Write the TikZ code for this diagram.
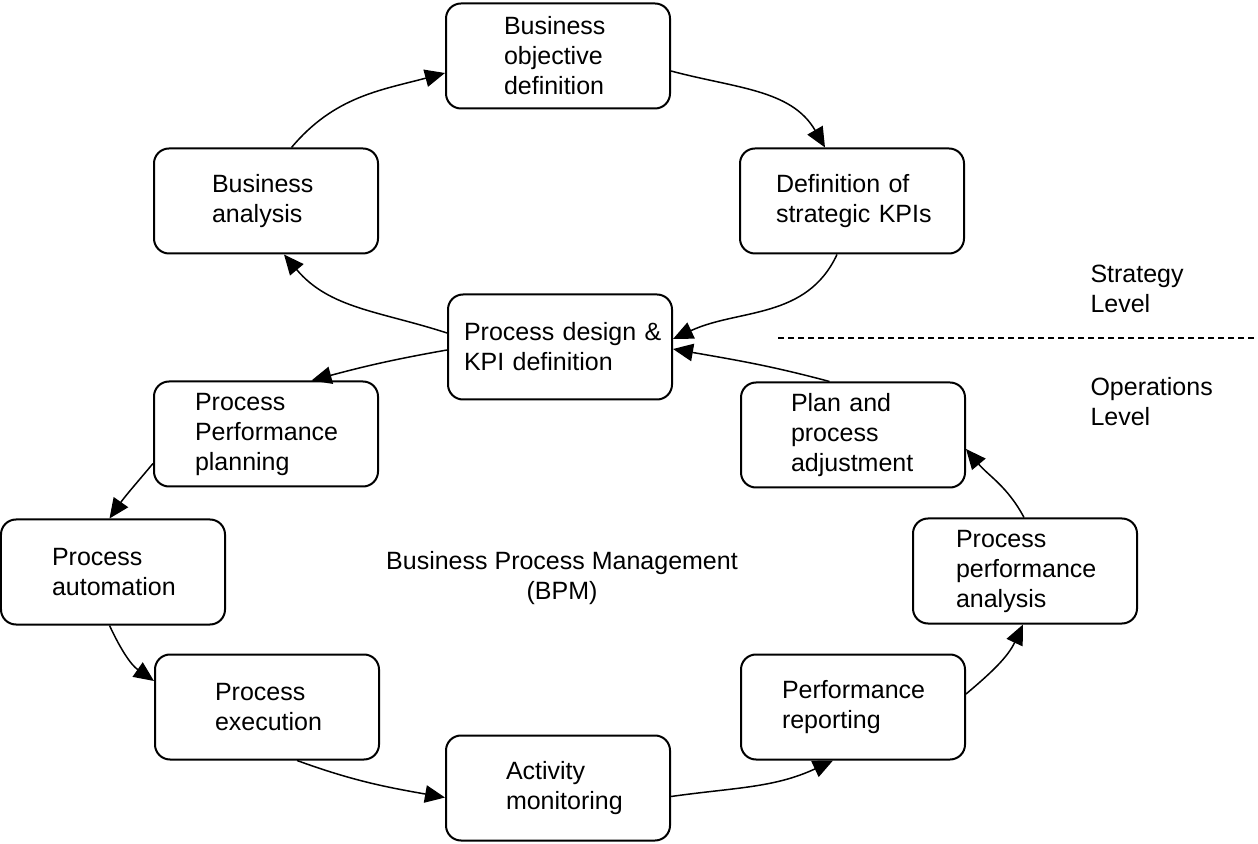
\documentclass[tikz,border=0pt]{standalone}
\usepackage{fontspec}
\setmainfont{Liberation Sans}
\usetikzlibrary{arrows.meta}
\begin{document}
\begin{tikzpicture}[x=0.4pt,y=-0.4pt,
  font=\fontsize{10}{12}\selectfont,
  stepbox/.style={draw,line width=0.8pt,rounded corners=6pt,text width=89.6pt,
    minimum height=42pt,inner sep=0pt,align=left},
  lpad/.style={execute at begin node={\leftskip=#1\relax}},
  flow/.style={line width=0.6pt,-{Triangle[length=8pt,width=7pt]}}]
\useasboundingbox (0,0) rectangle (1258,844);
% strategy level
\node[stepbox,lpad=23.2pt] (obj) at (558,56) {Business\\objective\\definition};
\node[stepbox,lpad=23.2pt] (ana) at (266,201) {Business\\analysis};
\node[stepbox,lpad=14.4pt] (kpi) at (852,201) {Definition of\\strategic KPIs};
\node[stepbox,lpad=6.4pt] (des) at (560,347) {Process design \&\\KPI definition};
% operations level
\node[stepbox,lpad=16.4pt] (plan) at (266,434) {Process\\Performance\\planning};
\node[stepbox,lpad=20pt] (adj) at (853,435) {Plan and\\process\\adjustment};
\node[stepbox,lpad=20.4pt] (auto) at (113,572) {Process\\automation};
\node[stepbox,lpad=17.2pt] (ppa) at (1025,571) {Process\\performance\\analysis};
\node[stepbox,lpad=24pt] (exec) at (267,707) {Process\\execution};
\node[stepbox,lpad=16.4pt] (rep) at (853,707) {Performance\\reporting};
\node[stepbox,lpad=24pt] (mon) at (558,788) {Activity\\monitoring};
% labels
\node[align=center] (bpm) at (562,578) {Business Process Management\\(BPM)};
\node[align=left,anchor=west,inner sep=0pt] (strat) at (1090,289) {Strategy\\Level};
\node[align=left,anchor=west,inner sep=0pt] (oper) at (1090,402) {Operations\\Level};
\draw[line width=0.6pt,dash pattern=on 2.4pt off 1.6pt] (778,338) -- (1255,338);
% cycle
\draw[flow] ([xshift=10.2pt]ana.north) to[out=50,in=195] ([yshift=-6.8pt]obj.west);
\draw[flow] ([yshift=-6pt]obj.east) to[out=-15,in=120] ([xshift=-10.8pt]kpi.north);
\draw[flow] ([xshift=-6pt]kpi.south) to[out=-115,in=25] ([yshift=3.2pt]des.east);
\draw[flow] ([yshift=5.6pt]des.west) to[out=162,in=-50] ([xshift=7.2pt]ana.south);
\draw[flow] ([yshift=-1.2pt]des.west) to[out=190,in=15] ([xshift=18.2pt]plan.north);
\draw[flow] ([yshift=-11.8pt]plan.west) to[out=230,in=55] ([xshift=-1.4pt]auto.north);
\draw[flow] ([xshift=-1.4pt]auto.south) to[out=-65,in=145] ([yshift=10.4pt]exec.west);
\draw[flow] ([xshift=12pt]exec.south) to[out=-20,in=170] ([yshift=-3.8pt]mon.west);
\draw[flow] ([yshift=-3.4pt]mon.east) to[out=8,in=205] ([xshift=-8pt]rep.south);
\draw[flow] ([yshift=5.2pt]rep.east) to[out=40,in=-115] ([xshift=-0.8pt]ppa.south);
\draw[flow] ([xshift=-0.4pt]ppa.north) to[out=118,in=-50] ([yshift=-5.6pt]adj.east);
\draw[flow] ([xshift=-9.4pt]adj.north) to[out=165,in=-10] ([yshift=-0.8pt]des.east);
\end{tikzpicture}
\end{document}
